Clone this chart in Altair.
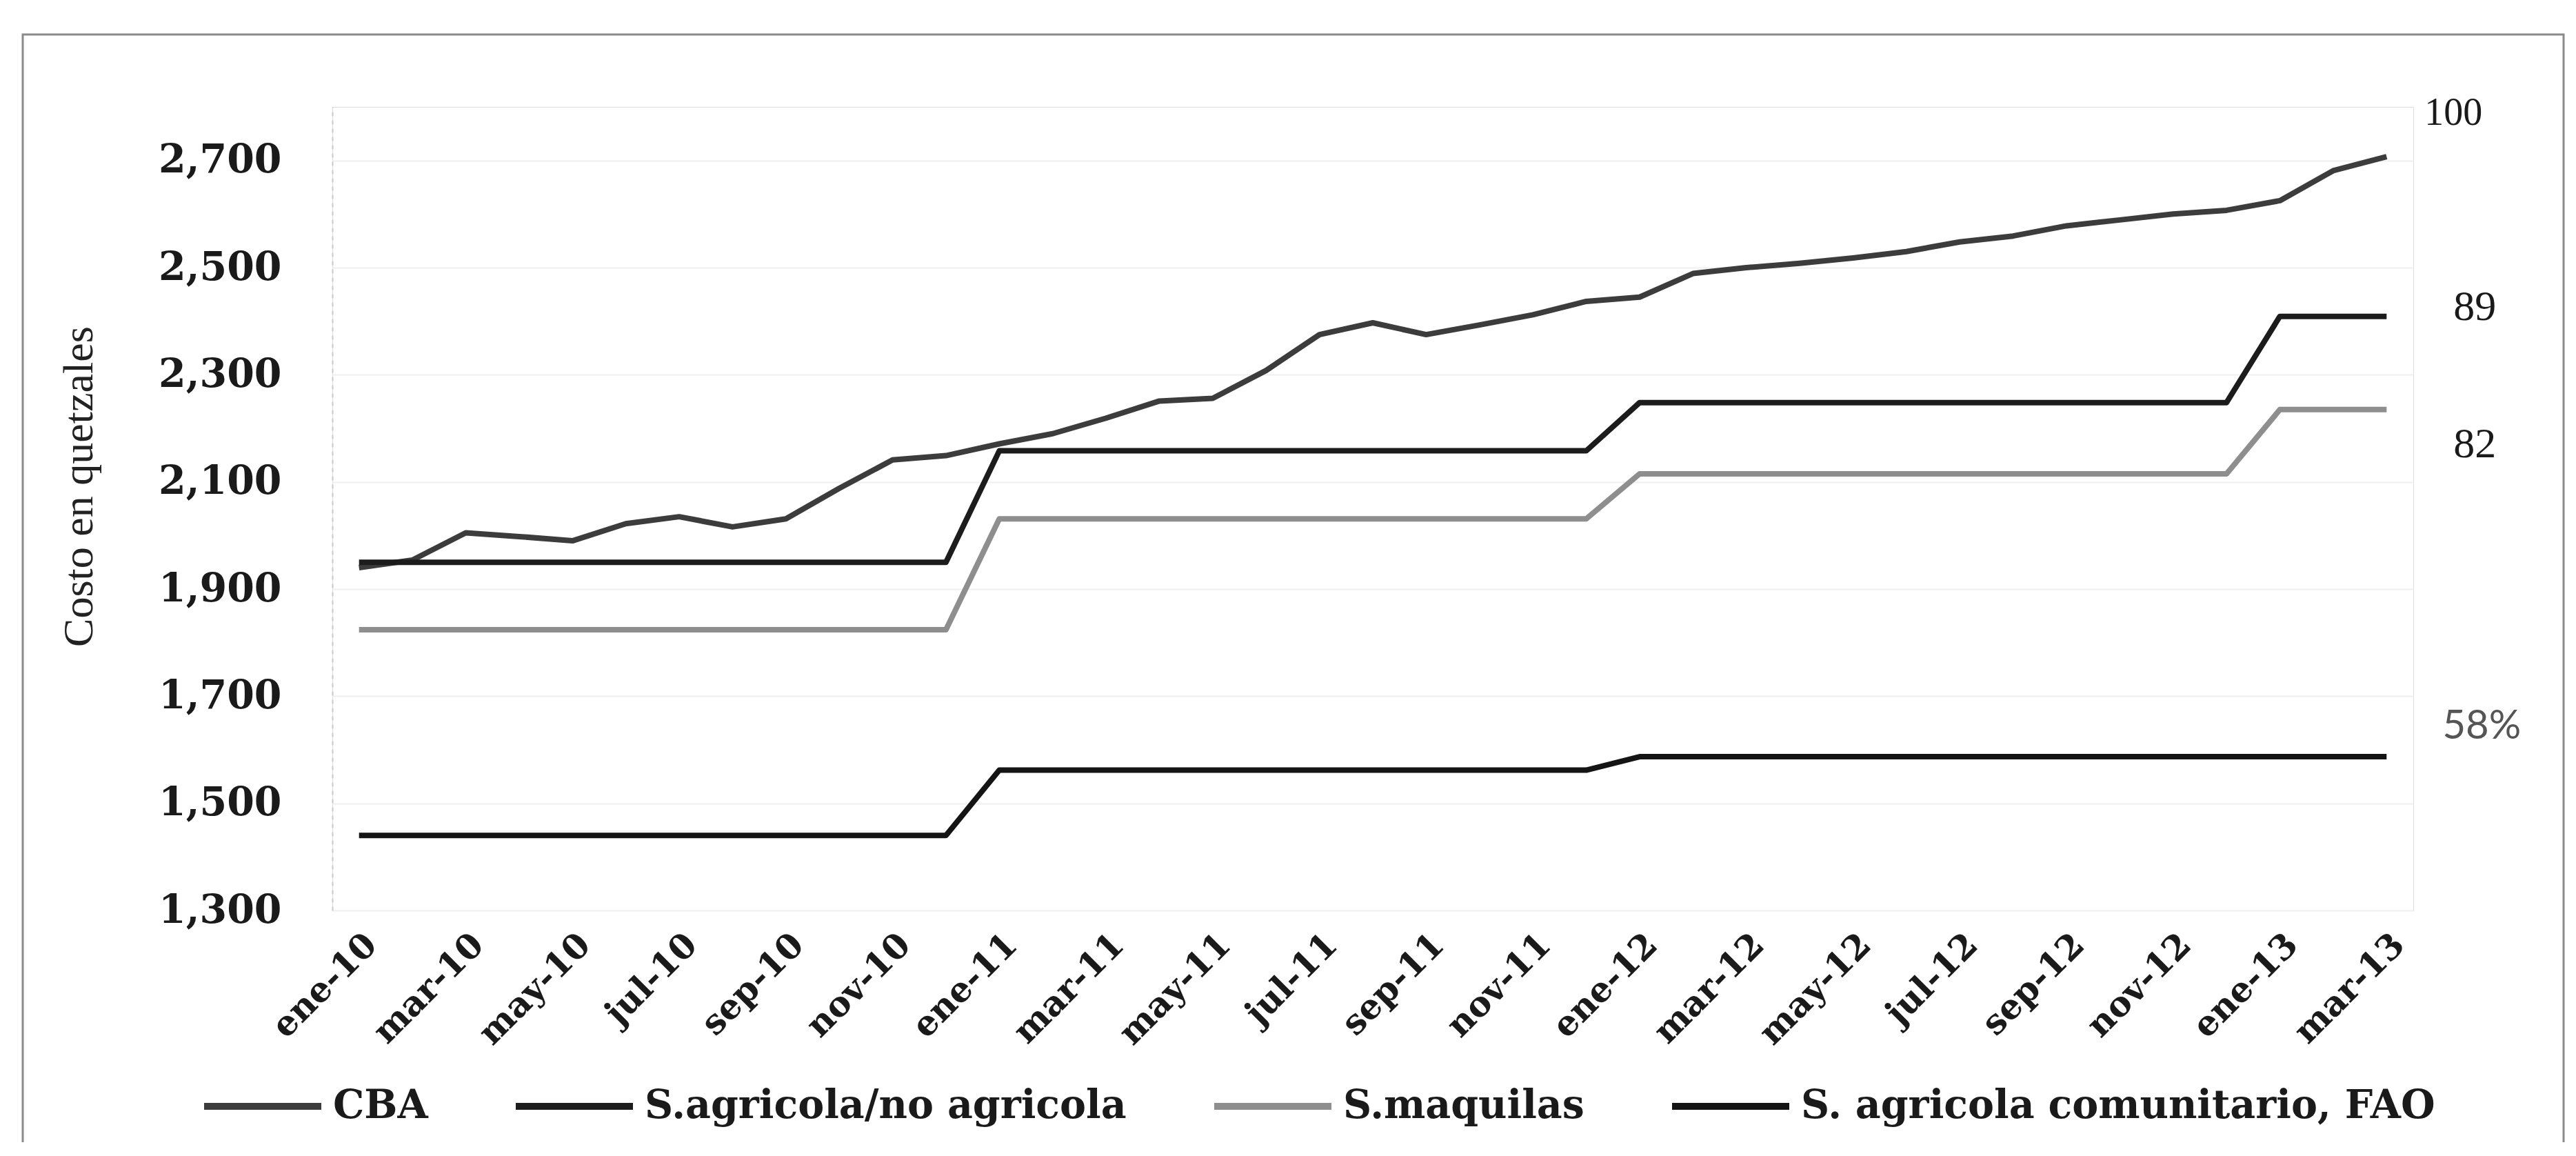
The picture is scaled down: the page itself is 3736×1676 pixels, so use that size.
import altair as alt
import pandas as pd

# ---------------- data ----------------
meses_base = ["ene", "feb", "mar", "abr", "may", "jun", "jul", "ago", "sep", "oct", "nov", "dic"]
meses = [f"{m}-{a}" for a in ["10", "11", "12"] for m in meses_base] + ["ene-13", "feb-13", "mar-13"]

cba = [1940, 1954, 2005, 1998, 1990, 2022, 2035, 2016, 2031, 2088, 2141, 2149,
       2171, 2190, 2219, 2251, 2256, 2308, 2375, 2397, 2375, 2393, 2412, 2437,
       2445, 2489, 2500, 2508, 2518, 2530, 2548, 2559, 2578, 2589, 2600, 2607,
       2625, 2681, 2707]
s_agricola = [1950] * 12 + [2158] * 12 + [2248] * 12 + [2409] * 3
s_maquilas = [1824] * 12 + [2031] * 12 + [2115] * 12 + [2235] * 3
s_fao = [1440] * 12 + [1562] * 12 + [1587] * 15

series_names = ["CBA", "S.agricola/no agricola", "S.maquilas", "S. agricola comunitario, FAO"]
series_values = [cba, s_agricola, s_maquilas, s_fao]
series_colors = ["#3c3c3c", "#1c1c1c", "#8e8e8e", "#141414"]

y_ticks = [1300, 1500, 1700, 1900, 2100, 2300, 2500, 2700]
x_label_values = meses[::2]

ann_labels = ["100", "89", "82", "58%"]
ann_values = [2788, 2426, 2170, 1643]

# ---------------- table ----------------
rows = []
for name, vals in zip(series_names, series_values):
    for i, (m, v) in enumerate(zip(meses, vals)):
        rows.append({"mes": m, "serie": name, "valor": v, "orden": i})
df = pd.DataFrame(rows)

W, H = 3018, 1165
PL, PT = 474, 147

x_enc = alt.X(
    "mes:O",
    sort=meses,
    scale=alt.Scale(domain=meses),
    axis=alt.Axis(
        title=None,
        values=x_label_values,
        labelAngle=-45,
        labelAlign="right",
        labelBaseline="top",
        labelPadding=24,
        labelFont="DejaVu Serif",
        labelFontWeight="bold",
        labelFontSize=50,
        labelColor="#1a1a1a",
        labelLimit=2000,
        domain=False,
        ticks=False,
        grid=False,
    ),
)
y_enc = alt.Y(
    "valor:Q",
    scale=alt.Scale(domain=[1300, 2800], nice=False, zero=False),
    axis=alt.Axis(
        title="Costo en quetzales",
        values=y_ticks,
        format=",.0f",
        labelFont="DejaVu Serif",
        labelFontWeight="bold",
        labelFontSize=57,
        labelColor="#1a1a1a",
        labelLimit=2000,
        labelPadding=74,
        ticks=False,
        domain=True,
        domainColor="#c8c8c8",
        domainWidth=2,
        domainDash=[6, 6],
        grid=True,
        gridColor="#f0f0f0",
        gridWidth=2,
        titleFont="Liberation Serif",
        titleFontWeight="normal",
        titleFontSize=62,
        titleColor="#222222",
        titleX=-368,
        titleY=550,
        titleAngle=270,
        titleAlign="center",
        titleBaseline="middle",
    ),
)

lines = alt.Chart(df).mark_line(strokeWidth=8, strokeJoin="round").encode(
    x=x_enc,
    y=y_enc,
    color=alt.Color(
        "serie:N",
        scale=alt.Scale(domain=series_names, range=series_colors),
        legend=alt.Legend(
            title=None,
            orient="none",
            legendX=-191,
            legendY=1359,
            direction="horizontal",
            symbolType="stroke",
            symbolSize=28900,
            symbolStrokeWidth=10,
            labelFont="DejaVu Serif",
            labelFontWeight="bold",
            labelFontSize=57,
            labelColor="#1a1a1a",
            labelOffset=12,
            columnPadding=107,
            labelLimit=2000,
        ),
    ),
    detail="serie:N",
    order="orden:Q",
)

border = alt.Chart(pd.DataFrame({"k": [0]})).mark_rect(
    fillOpacity=0, stroke="#8a8a8a", strokeWidth=3
).encode(
    x=alt.value(33 - 8 - PL), x2=alt.value(3718 - 8 - PL), y=alt.value(50 - 8 - PT), y2=alt.value(1800)
)

ann_styles = [
    dict(dx=97, font="Liberation Serif", fontSize=56, color="#1a1a1a"),
    dict(dx=128, font="Liberation Serif", fontSize=62, color="#1a1a1a"),
    dict(dx=128, font="Liberation Serif", fontSize=62, color="#1a1a1a"),
    dict(dx=138, font="Lato", fontSize=58, color="#555555"),
]
ann_layers = []
for lab, val, st in zip(ann_labels, ann_values, ann_styles):
    ann_layers.append(
        alt.Chart(pd.DataFrame({"mes": [meses[-1]], "valor": [val], "txt": [lab]}))
        .mark_text(align="center", baseline="middle", **st)
        .encode(x=alt.X("mes:O", sort=meses), y=alt.Y("valor:Q"), text="txt:N")
    )

chart = alt.layer(border, lines, *ann_layers).properties(
    width=W,
    height=H,
    autosize=alt.AutoSizeParams(type="none"),
    padding={"left": PL, "top": PT, "right": 220, "bottom": 336},
).configure_view(stroke=None).configure(background="white")

chart.save("out.html", embed_options={"renderer": "svg", "actions": False})
